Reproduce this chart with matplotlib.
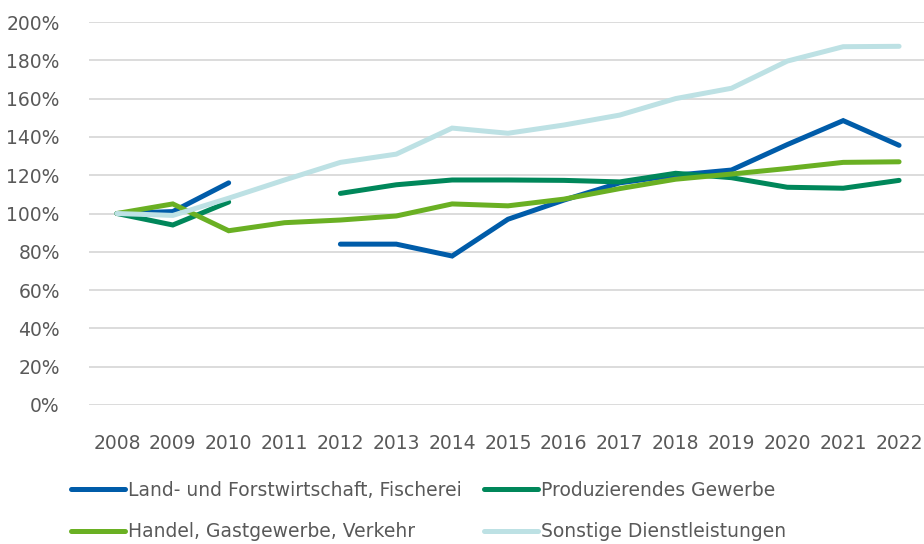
import numpy as np
import matplotlib.pyplot as plt

years = [str(y) for y in range(2008, 2023)]
nan = np.nan

land = [100, 101, 116, nan, 84, 84, 77.8, 97, 107, 116, 120, 122.7, 136, 148.5, 135.6]
produz = [100, 94, 106, nan, 110.5, 115, 117.5, 117.5, 117.3, 116.5, 121, 118.7, 113.7, 113.2, 117.3]
handel = [100, 105, 91, 95.2, 96.6, 98.7, 105, 104, 107.5, 113, 117.9, 120.6, 123.5, 126.7, 127]
sonst = [100, 99, 108, 117.5, 126.7, 131, 144.6, 141.9, 146.2, 151.4, 160, 165.4, 179.6, 187.1, 187.3]

names = ['Land- und Forstwirtschaft, Fischerei', 'Produzierendes Gewerbe',
         'Handel, Gastgewerbe, Verkehr', 'Sonstige Dienstleistungen']
colors = ['#005CA9', '#00875A', '#6AB023', '#BDE1E4']

fig = plt.figure(figsize=(9.24, 5.44), dpi=100)
ax = fig.add_axes([89 / 924, 1 - 405 / 544, 838 / 924, 383 / 544])

x = np.arange(len(years))
handles = []
for vals, name, c in zip([land, produz, handel, sonst], names, colors):
    ln, = ax.plot(x, np.array(vals) / 100, color=c, lw=3.6, solid_capstyle='round',
                  solid_joinstyle='miter', label=name)
    handles.append(ln)

ax.set_xlim(-0.5, len(years) - 0.5)
ax.set_ylim(0, 2.0)
ticks = np.arange(0, 2.01, 0.2)
ax.set_yticks(ticks)
ax.set_yticklabels([f'{int(round(v * 100))}%' for v in ticks])
ax.set_xticks(x)
ax.set_xticklabels(years)
ax.grid(axis='y', color='#D9D9D9', lw=1.3)
ax.set_axisbelow(True)
for s in ax.spines.values():
    s.set_visible(False)
ax.tick_params(length=0, labelsize=13.5, colors='#595959')
ax.tick_params(axis='x', pad=21)
ax.tick_params(axis='y', pad=21)

# matplotlib fills legend column-wise
order = [0, 2, 1, 3]
fig.legend(handles=[handles[i] for i in order], loc='upper left',
           bbox_to_anchor=(54 / 924, 1 - 464 / 544),
           ncol=2, frameon=False, fontsize=13.5, handlelength=2.9, handletextpad=0.16,
           columnspacing=1.15, labelspacing=1.2, labelcolor='#595959')

fig.savefig('out.png', dpi=100)
